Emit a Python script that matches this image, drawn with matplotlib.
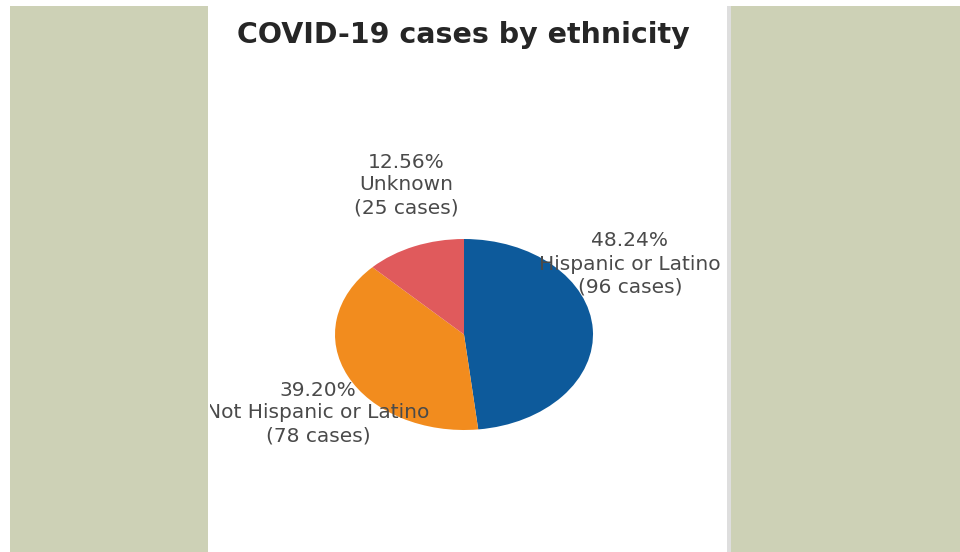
import matplotlib
matplotlib.use("Agg")
import matplotlib.pyplot as plt
from matplotlib.patches import Rectangle

# ---- data ----
categories = ["Hispanic or Latino", "Not Hispanic or Latino", "Unknown"]
cases = [96, 78, 25]
percents = ["48.24%", "39.20%", "12.56%"]
colors = ["#0d5a9b", "#f28c1e", "#e05a5c"]
title = "COVID-19 cases by ethnicity"

W, H = 960, 552
fig = plt.figure(figsize=(W / 100, H / 100), dpi=100)
fig.patch.set_facecolor("white")

def fx(x):
    return x / W

def fy(y):
    return 1 - y / H

olive = "#cdd1b6"
# side panels
fig.patches.append(Rectangle((fx(10), 0), fx(208) - fx(10), fy(6), transform=fig.transFigure,
                             facecolor=olive, edgecolor="none", zorder=0))
fig.patches.append(Rectangle((fx(731), 0), 1 - fx(731), fy(6), transform=fig.transFigure,
                             facecolor=olive, edgecolor="none", zorder=0))
fig.patches.append(Rectangle((fx(727), 0), fx(731) - fx(727), fy(6), transform=fig.transFigure,
                             facecolor="#dedede", edgecolor="none", zorder=0))

# pie axes (stretched ellipse)
L, R, T, B = 335, 593, 239, 430
pax = fig.add_axes([fx(L), fy(B), fx(R) - fx(L), fy(T) - fy(B)])
pax.pie(cases, colors=colors, startangle=90, counterclock=False, radius=1,
        wedgeprops=dict(linewidth=0))
pax.set_aspect("auto")
pax.set_xlim(-1, 1)
pax.set_ylim(-1, 1)
pax.axis("off")

# text overlay axes covering the white panel
tx0, tx1, ty0, ty1 = 210, 727, 6, 552
tax = fig.add_axes([fx(tx0), fy(ty1), fx(tx1) - fx(tx0), fy(ty0) - fy(ty1)])
tax.set_xlim(tx0, tx1)
tax.set_ylim(ty1, ty0)
tax.axis("off")
tax.patch.set_alpha(0)

tax.text(463, 35, title, ha="center", va="center", fontsize=20.5, fontweight="bold",
         family="DejaVu Sans", color="#262626")

label_pos = [(630, [241, 265, 287]), (318, [390, 413, 436]), (406, [163, 185, 208])]
for (cx, ys), name, n, p in zip(label_pos, categories, cases, percents):
    lines = [p, name, f"({n} cases)"]
    for y, s in zip(ys, lines):
        tax.text(cx, y, s, ha="center", va="center", fontsize=14.5, family="DejaVu Sans",
                 color="#4a4a4a", clip_on=True)

fig.savefig("out.png", dpi=100)
